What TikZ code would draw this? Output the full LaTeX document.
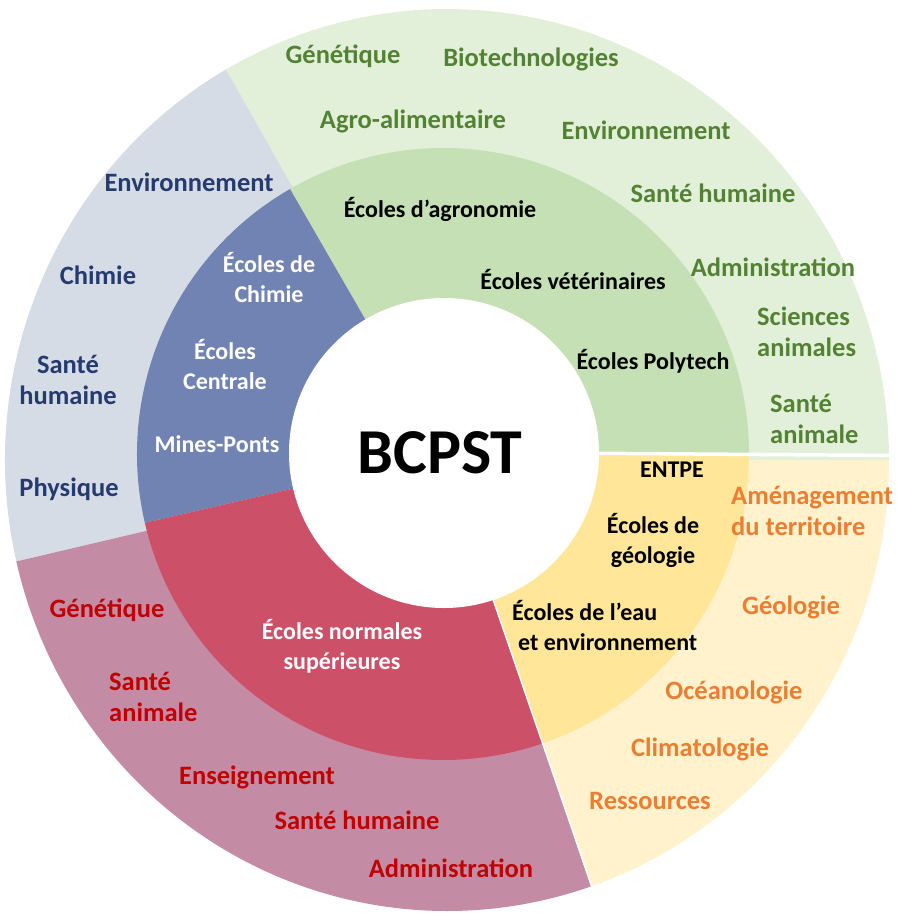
\documentclass[tikz,border=0pt]{standalone}
\usepackage{fontspec}
\setmainfont{Carlito}
\usepackage{tikz}
\tikzset{
  etiq/.style={font=\bfseries\fontsize{24}{30}\selectfont, align=center, inner sep=0pt},
  etiqex/.style={etiq, font=\bfseries\fontsize{26.5}{31.5}\selectfont},
  izq/.style={align=left, anchor=west},
}

\begin{document}
\begin{tikzpicture}[x=1pt, y=1pt]
\definecolor{verdeIn}{HTML}{C5E0B4}
\definecolor{verdeEx}{HTML}{E2F0D9}
\definecolor{azulIn}{HTML}{7083B3}
\definecolor{azulEx}{HTML}{D6DCE5}
\definecolor{rojoIn}{HTML}{CC5068}
\definecolor{rojoEx}{HTML}{C48BA5}
\definecolor{amarIn}{HTML}{FFE699}
\definecolor{amarEx}{HTML}{FFF2CC}
\definecolor{txtVerde}{HTML}{548235}
\definecolor{txtAzul}{HTML}{253A6E}
\definecolor{txtRojo}{HTML}{C00000}
\definecolor{txtNaranja}{HTML}{ED7D31}

\useasboundingbox (0,0) rectangle (897,-913);

% Anillo exterior
\begin{scope}[shift={(447,-460)}]
\foreach \a/\b/\c in {0/120/verdeEx, 120/193/azulEx, 193/289/rojoEx, 289/360/amarEx} {
  \fill[\c] (0,0) -- (\a:442 and 451) arc[start angle=\a, end angle=\b, x radius=442, y radius=451] -- cycle;
}
\end{scope}

% Anillo interior
\begin{scope}[shift={(443,-454)}]
\foreach \a/\b/\c in {0/120/verdeIn, 120/193/azulIn, 193/289/rojoIn, 289/360/amarIn} {
  \fill[\c] (0,0) -- (\a:306) arc[start angle=\a, end angle=\b, radius=306] -- cycle;
}
\end{scope}

% Separaciones y centro
\draw[white, line width=3.5] (560,-453) -- (897,-455.5);
\draw[white, line width=1.5] (443,-454) -- ++(289:460);
\fill[white] (444,-453) circle (155);
\node[font=\bfseries\fontsize{64}{66}\selectfont, inner sep=0pt] (bcpst) at (440,-453) {BCPST};

% Sector vert
\foreach \n/\x/\y/\t in {gen/343/56/Génétique, bio/531/59/Biotechnologies,
  agro/413/121/Agro-alimentaire, envV/646/130/Environnement,
  shV/713/193/Santé humaine, admV/773/267/Administration} {
  \node[etiqex, txtVerde] (\n) at (\x,-\y) {\t};
}
\node[etiqex, izq, txtVerde] (scan) at (757,-332) {Sciences\\animales};
\node[etiqex, izq, txtVerde] (sanV) at (770,-419) {Santé\\animale};
\foreach \n/\x/\y/\t in {agron/440/209/Écoles d’agronomie,
  veto/573/280/Écoles vétérinaires, poly/653/361/Écoles Polytech} {
  \node[etiq] (\n) at (\x,-\y) {\t};
}

% Sector bleu
\foreach \n/\x/\y/\t in {envB/189/182/Environnement, chiB/98/275/Chimie,
  shB/68/380/{Santé\\humaine}, phy/69/489/Physique} {
  \node[etiqex, txtAzul] (\n) at (\x,-\y) {\t};
}
\foreach \n/\x/\y/\t in {chim/269/278/{Écoles de\\Chimie},
  cent/225/365/{Écoles\\Centrale}, mines/217/444/Mines-Ponts} {
  \node[etiq, white] (\n) at (\x,-\y) {\t};
}

% Sector rouge
\node[etiq, white] (ens) at (342,-646) {Écoles normales\\supérieures};
\node[etiqex, txtRojo] (genR) at (107,-610) {Génétique};
\node[etiqex, izq, txtRojo] (sanR) at (109,-697) {Santé\\animale};
\foreach \n/\x/\y/\t in {enseig/257/777/Enseignement, shR/357/820/Santé humaine,
  admR/451/868/Administration} {
  \node[etiqex, txtRojo] (\n) at (\x,-\y) {\t};
}

% Sector jaune
\node[etiq] (entpe) at (672,-470) {ENTPE};
\node[etiq] (geolE) at (653,-540) {Écoles de\\géologie};
\node[etiq, izq] (eau) at (512,-626) {Écoles de l’eau\\\hspace*{6pt}et environnement};
\node[etiqex, izq, txtNaranja] (amen) at (731,-511) {Aménagement\\du territoire};
\foreach \n/\x/\y/\t in {geol/791/607/Géologie, ocea/734/692/Océanologie,
  clim/700/749/Climatologie, ress/650/801/Ressources} {
  \node[etiqex, txtNaranja] (\n) at (\x,-\y) {\t};
}
\end{tikzpicture}
\end{document}
